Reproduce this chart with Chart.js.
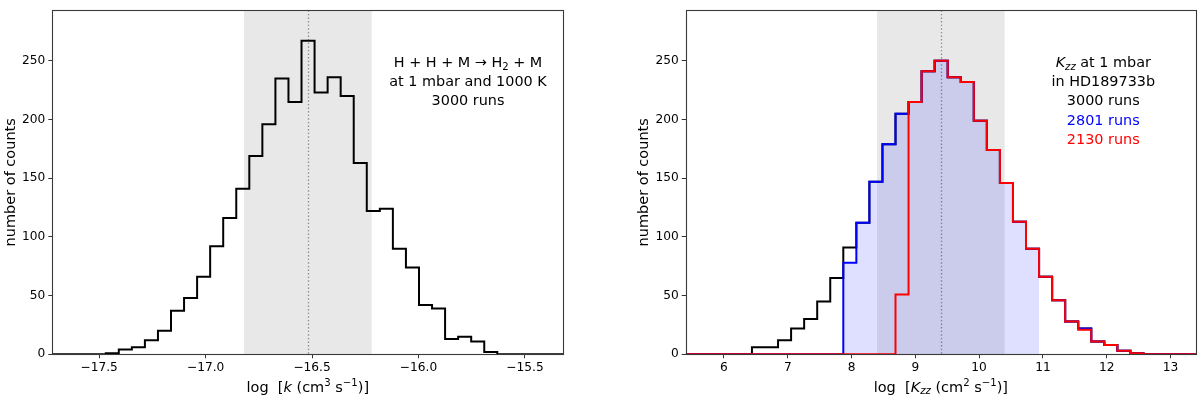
<!DOCTYPE html>
<html><head><meta charset="utf-8">
<script src="https://cdn.jsdelivr.net/npm/chart.js@4.4.1/dist/chart.umd.min.js"></script>
<style>
html,body{margin:0;padding:0;background:#fff;width:1200px;height:398px;overflow:hidden}
.box{position:absolute;top:0;width:600px;height:398px}
canvas{display:block}
</style></head><body>
<div class="box" style="left:0"><canvas id="c1" width="600" height="398"></canvas></div>
<div class="box" style="left:600px"><canvas id="c2" width="600" height="398"></canvas></div>
<script>
// ---------- data ----------
// Left panel: log k histogram, 30 bins
const leftBinStart = -17.469;
const leftBinWidth = 0.0613;
const leftCounts = [1,4,6,12,20,37,48,66,92,116,141,169,196,235,215,267,223,236,220,163,122,124,90,74,42,39,13,15,11,2];
const leftXRange = [-17.72, -15.32];
const leftXTicks = [-17.5, -17.0, -16.5, -16.0, -15.5];
const leftSpan = [-16.82, -16.22];
const leftMean = -16.52;

// Right panel: log Kzz histograms, 30 common bins
const rightBinStart = 6.4385;
const rightBinWidth = 0.2046;
const allRunsCounts = [6,6,12,22,30,45,65,91,112,147,179,205,215,241,250,236,232,199,174,146,113,90,66,46,28,22,11,8,3,1];
const blueRunsCounts = [0,0,0,0,0,0,0,78,112,147,179,205,215,241,250,236,232,199,174,146,113,90,66,46,28,22,11,8,3,1];
const redRunsCounts = [0,0,0,0,0,0,0,0,0,0,0,51,215,241,250,236,232,199,174,146,113,90,66,46,28,21,11,8,3,1];
const blueFillBins = [7, 22]; // shaded bins [first, end)
const rightXRange = [5.4, 13.4];
const rightXTicks = [6,7,8,9,10,11,12,13];
const rightSpan = [8.4, 10.4];
const rightMean = 9.4;

const yTicks = [0,50,100,150,200,250];
const yMax = 293;

// ---------- helpers ----------
const FAM = '"DejaVu Sans", "Liberation Sans", sans-serif';
function stepPoints(start, width, counts, xmin, xmax){
  // each point = left edge of a bin with that bin's count (stepped 'before' = horizontal first)
  const pts = [{x:xmin, y:0}];
  counts.forEach((c,i)=>pts.push({x:start+i*width, y:c}));
  pts.push({x:start+counts.length*width, y:0});
  pts.push({x:xmax, y:0});
  return pts;
}
function fillPoints(start, width, counts, range){
  const pts = [];
  for(let i=range[0];i<range[1];i++) pts.push({x:start+i*width, y:counts[i]});
  pts.push({x:start+range[1]*width, y:0});
  return pts;
}
function drawRich(ctx, segs, x, y, size, align){
  const small = size*0.7;
  const fontOf = s => `${s.it?'italic ':''}${(s.sup||s.sub)?small:size}px ${FAM}`;
  let total = 0;
  segs.forEach(s=>{ctx.font=fontOf(s); s.w=ctx.measureText(s.t).width; total+=s.w;});
  let cx = align==='center' ? x-total/2 : x;
  ctx.textAlign='left'; ctx.textBaseline='alphabetic';
  segs.forEach(s=>{
    ctx.font=fontOf(s);
    ctx.fillStyle = s.c || '#000';
    let dy = s.sup ? -size*0.38 : (s.sub ? size*0.2 : 0);
    ctx.fillText(s.t, cx, y+dy);
    cx += s.w;
  });
}

const decoPlugin = {
  id:'deco',
  beforeDatasetsDraw(chart){
    const d = chart.options.plugins.deco; const ctx = chart.ctx; const a = chart.chartArea;
    const xs = chart.scales.x;
    ctx.save();
    ctx.fillStyle = '#e8e8e8';
    const x0 = xs.getPixelForValue(d.span[0]), x1 = xs.getPixelForValue(d.span[1]);
    ctx.fillRect(x0, a.top, x1-x0, a.bottom-a.top);
    ctx.strokeStyle = '#8c8c8c'; ctx.lineWidth = 1.3; ctx.setLineDash([1.4,2.2]);
    const xm = Math.round(xs.getPixelForValue(d.mean))+0.5;
    ctx.beginPath(); ctx.moveTo(xm, a.top); ctx.lineTo(xm, a.bottom); ctx.stroke();
    ctx.restore();
  },
  afterDraw(chart){
    const d = chart.options.plugins.deco; const ctx = chart.ctx; const a = chart.chartArea;
    ctx.save();
    ctx.strokeStyle = '#3a3a3a'; ctx.lineWidth = 1.1;
    ctx.strokeRect(Math.round(a.left)+0.5, Math.round(a.top)+0.5, Math.round(a.right-a.left), Math.round(a.bottom-a.top));
    d.texts.forEach((line,i)=>drawRich(ctx, line, d.textX, d.textY + i*d.textDy, 14.4, 'center'));
    drawRich(ctx, d.xlabel, (a.left+a.right)/2, 391.5, 14.5, 'center');
    ctx.save();
    ctx.translate(d.ylabelX, (a.top+a.bottom)/2);
    ctx.rotate(-Math.PI/2);
    drawRich(ctx, [{t:'number of counts'}], 0, 0, 14.5, 'center');
    ctx.restore();
    ctx.restore();
  }
};

function makeChart(id, cfg){
  const tickFont = {family: FAM, size: 12.2};
  return new Chart(document.getElementById(id), {
    type:'line',
    data:{datasets: cfg.datasets},
    options:{
      responsive:false, animation:false, devicePixelRatio:1,
      layout:{padding:{left:0, right:cfg.padRight, top:3.3, bottom:0}},
      plugins:{legend:{display:false}, tooltip:{enabled:false}, deco: cfg.deco},
      elements:{point:{radius:0}},
      scales:{
        x:{type:'linear', min:cfg.xRange[0], max:cfg.xRange[1],
          afterBuildTicks: s=>{ s.ticks = cfg.xTicks.map(v=>({value:v})); },
          afterFit: s=>{ s.height = 43.7; },
          ticks:{callback: cfg.xFmt, font:tickFont, color:'#000', padding:2.5, maxRotation:0, autoSkip:false},
          grid:{display:true, drawOnChartArea:false, drawTicks:true, tickLength:4, color:'#333', lineWidth:1},
          border:{display:false}},
        y:{type:'linear', min:0, max:yMax,
          afterBuildTicks: s=>{ s.ticks = yTicks.map(v=>({value:v})); },
          afterFit: s=>{ s.width = cfg.yWidth; },
          ticks:{callback: v=>String(v), font:tickFont, color:'#000', padding:3, autoSkip:false},
          grid:{display:true, drawOnChartArea:false, drawTicks:true, tickLength:4, color:'#333', lineWidth:1},
          border:{display:false}}
      }
    },
    plugins:[decoPlugin]
  });
}

const stepDs = (data, color, order) => ({data, borderColor:color, borderWidth:2, stepped:'before', fill:false, pointRadius:0, order});

makeChart('c1', {
  xRange:leftXRange, xTicks:leftXTicks, yWidth:52.3, padRight:36.7,
  xFmt: v => (v<0?'\u2212':'') + Math.abs(v).toFixed(1),
  datasets:[ stepDs(stepPoints(leftBinStart, leftBinWidth, leftCounts, leftXRange[0], leftXRange[1]), '#000', 0) ],
  deco:{ span:leftSpan, mean:leftMean, textX:468, textY:66.7, textDy:19.2, ylabelX:15.3,
    texts:[
      [{t:'H + H + M \u2192 H'},{t:'2',sub:true},{t:' + M'}],
      [{t:'at 1 mbar and 1000 K'}],
      [{t:'3000 runs'}]
    ],
    xlabel:[{t:'log  ['},{t:'k',it:true},{t:' (cm'},{t:'3',sup:true},{t:' s'},{t:'\u22121',sup:true},{t:')]'}]
  }
});

makeChart('c2', {
  xRange:rightXRange, xTicks:rightXTicks, yWidth:85.7, padRight:4,
  xFmt: v => String(v),
  datasets:[
    {data: fillPoints(rightBinStart, rightBinWidth, blueRunsCounts, blueFillBins), borderWidth:0, borderColor:'rgba(0,0,0,0)',
     backgroundColor:'rgba(0,0,255,0.125)', stepped:'before', fill:'origin', pointRadius:0, order:3},
    stepDs(stepPoints(rightBinStart, rightBinWidth, allRunsCounts, rightXRange[0], rightXRange[1]), '#000', 2),
    stepDs(stepPoints(rightBinStart, rightBinWidth, blueRunsCounts, rightXRange[0], rightXRange[1]), '#0000ff', 1),
    stepDs(stepPoints(rightBinStart, rightBinWidth, redRunsCounts, rightXRange[0], rightXRange[1]), '#ff0000', 0)
  ],
  deco:{ span:rightSpan, mean:rightMean, textX:503.3, textY:66.7, textDy:19.3, ylabelX:48.3,
    texts:[
      [{t:'K',it:true},{t:'zz',it:true,sub:true},{t:' at 1 mbar'}],
      [{t:'in HD189733b'}],
      [{t:'3000 runs'}],
      [{t:'2801 runs',c:'#0000ff'}],
      [{t:'2130 runs',c:'#ff0000'}]
    ],
    xlabel:[{t:'log  ['},{t:'K',it:true},{t:'zz',it:true,sub:true},{t:' (cm'},{t:'2',sup:true},{t:' s'},{t:'\u22121',sup:true},{t:')]'}]
  }
});
</script>
</body></html>
